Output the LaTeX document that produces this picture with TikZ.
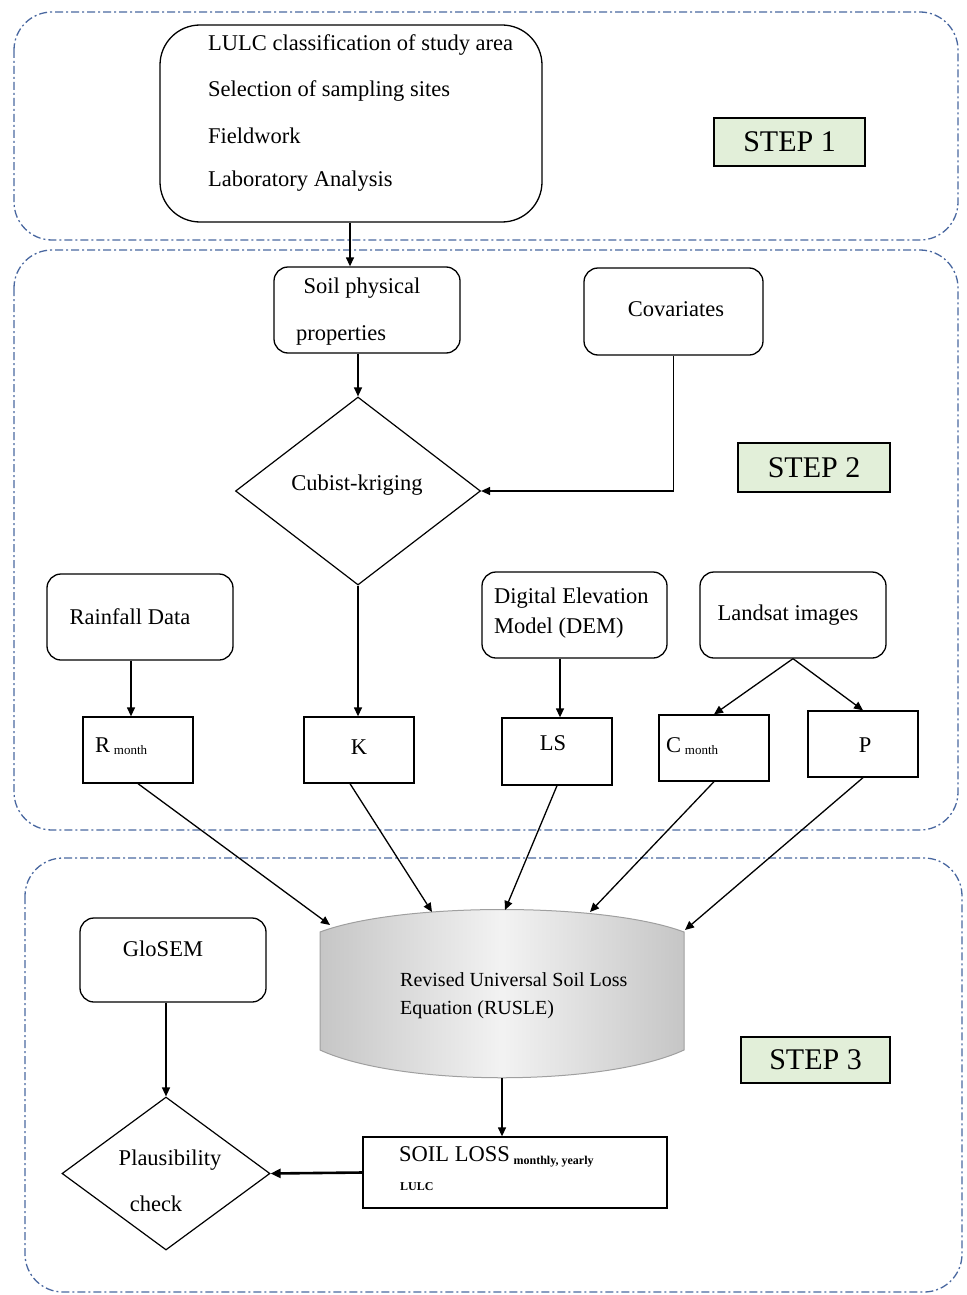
\documentclass[tikz,border=0pt]{standalone}
\usepackage{fontspec}
\setmainfont{Liberation Serif}
\usetikzlibrary{arrows.meta,shapes.geometric}
\definecolor{stepgreen}{HTML}{E2EFD9}
\definecolor{dashblue}{HTML}{4A68A0}
\begin{document}
\begin{tikzpicture}[x=1pt,y=-1pt,
  region/.style={draw=dashblue, line width=1.3pt, rounded corners=38pt,
    dash pattern=on 8pt off 3pt on 2pt off 3pt},
  rbox/.style={draw, line width=1.3pt, rounded corners=14pt, inner sep=0pt},
  sbox/.style={draw, line width=1.3pt, inner sep=0pt},
  stepbox/.style={draw, line width=1.1pt, fill=stepgreen, inner sep=0pt,
    font=\fontsize{30}{32}\selectfont},
  dia/.style={draw, line width=1.2pt, shape=diamond, inner sep=0pt},
  txt/.style={inner sep=0pt, font=\fontsize{22.5}{26}\selectfont},
  stxt/.style={inner sep=0pt, font=\fontsize{20}{24}\selectfont},
  arr/.style={line width=1.3pt, -{Triangle[length=9pt,width=8pt]}},
  ln/.style={line width=1.3pt}
]
\useasboundingbox (0,0) rectangle (966,1295);

% regions
\draw[region] (14,12) rectangle (958,240);
\draw[region] (14,250) rectangle (958,830);
\draw[region] (25,858) rectangle (962,1292);

% STEP 1
\node[rbox, rounded corners=40pt, minimum width=382pt, minimum height=197pt] (s1) at (351,123.5) {};
\node[txt, anchor=west] (t1) at (208,45) {LULC classification of study area};
\node[txt, anchor=west] (t2) at (208,91) {Selection of sampling sites};
\node[txt, anchor=west] (t3) at (208,136) {Fieldwork};
\node[txt, anchor=west] (t4) at (208,181) {Laboratory Analysis};
\node[stepbox, minimum width=151pt, minimum height=48pt] (step1) at (789.5,142) {STEP 1};

% STEP 2
\node[rbox, minimum width=186pt, minimum height=86pt] (soil) at (367,310) {};
\node[txt] (soilt1) at (362,288) {Soil physical};
\node[txt, anchor=west] (soilt2) at (296,335) {properties};
\node[rbox, minimum width=179pt, minimum height=87pt] (cov) at (673.5,311.5) {};
\node[txt] (covt) at (676,309) {Covariates};
\node[dia, minimum width=245pt, minimum height=188pt] (ck) at (358,491) {};
\node[txt] (ckt) at (357,485) {Cubist-kriging};
\node[stepbox, minimum width=152pt, minimum height=49pt] (step2) at (814,467.5) {STEP 2};

\node[rbox, minimum width=186pt, minimum height=86pt] (rain) at (140,617) {};
\node[txt] (raint) at (130,617) {Rainfall Data};
\node[rbox, minimum width=185pt, minimum height=86pt] (dem) at (574.5,615) {};
\node[txt, anchor=west] (demt1) at (494,598) {Digital Elevation};
\node[txt, anchor=west] (demt2) at (494,628) {Model (DEM)};
\node[rbox, minimum width=186pt, minimum height=86pt] (land) at (793,615) {};
\node[txt] (landt) at (788,615) {Landsat images};

\node[sbox, minimum width=110pt, minimum height=66pt] (R) at (138,750) {};
\node[txt, anchor=west] (Rt) at (95,746) {R\,{\fontsize{13}{13}\selectfont\raisebox{-2pt}{month}}};
\node[sbox, minimum width=110pt, minimum height=66pt] (K) at (359,750) {};
\node[txt] (Kt) at (359,747) {K};
\node[sbox, minimum width=110pt, minimum height=67pt] (LS) at (557,751.5) {};
\node[txt] (LSt) at (553,743) {LS};
\node[sbox, minimum width=110pt, minimum height=66pt] (C) at (714,748) {};
\node[txt, anchor=west] (Ct) at (666,746) {C\,{\fontsize{13}{13}\selectfont\raisebox{-2pt}{month}}};
\node[sbox, minimum width=110pt, minimum height=66pt] (P) at (863,744) {};
\node[txt] (Pt) at (865,745) {P};

% STEP 3
\shade[left color=gray!45, right color=gray!45, middle color=gray!10, draw=gray!75, line width=1pt]
  (320,932) .. controls (400,902) and (604,902) .. (684,932) -- (684,1050)
  .. controls (604,1087) and (400,1087) .. (320,1050) -- cycle;
\node[inner sep=0pt, minimum width=364pt, minimum height=120pt] (rusle) at (502,990) {};
\node[stxt, anchor=west] (rt1) at (400,980) {Revised Universal Soil Loss};
\node[stxt, anchor=west] (rt2) at (400,1010) {Equation (RUSLE)};
\coordinate (eR) at (330,925);
\coordinate (eK) at (432,912);
\coordinate (eLS) at (505,910);
\coordinate (eC) at (590,912);
\coordinate (eP) at (685,930);
\coordinate (rb) at (502,1078);

\node[rbox, minimum width=186pt, minimum height=84pt] (glo) at (173,960) {};
\node[txt] (glot) at (163,949) {GloSEM};
\node[dia, minimum width=208pt, minimum height=153pt] (pl) at (166,1173.5) {};
\node[txt] (plt1) at (170,1160) {Plausibility};
\node[txt] (plt2) at (156,1204) {check};
\node[sbox, minimum width=304pt, minimum height=71pt] (sl) at (515,1172.5) {};
\node[txt, anchor=west] (slt1) at (399,1157) {SOIL LOSS\,{\fontsize{12}{12}\selectfont\bfseries\raisebox{-3pt}{monthly, yearly}}};
\node[inner sep=0pt, anchor=west, font=\fontsize{12}{14}\selectfont\bfseries] (slt2) at (400,1187) {LULC};
\node[stepbox, minimum width=149pt, minimum height=46pt] (step3) at (815.5,1060) {STEP 3};

% connectors
\draw[arr] (s1.south -| 350,0) -- (350,0 |- soil.north);
\draw[arr] (soil.south -| ck.north) -- (ck.north);
\draw[arr] (cov.south) -- (cov.south |- ck.east) -- (ck.east);
\draw[arr] (rain.south -| 131,0) -- (131,0 |- R.north);
\draw[arr] (ck.south) -- (ck.south |- K.north);
\draw[arr] (dem.south -| 560,0) -- (560,0 |- LS.north);
\draw[arr] (land.south) -- (C.north);
\draw[arr] (land.south) -- (P.north);
\draw[arr] (R.south) -- (eR);
\draw[arr] (K.south -| 350,0) -- (eK);
\draw[arr] (LS.south) -- (eLS);
\draw[arr] (C.south) -- (eC);
\draw[arr] (P.south) -- (eP);
\draw[arr] (glo.south -| pl.north) -- (pl.north);
\draw[arr] (rb) -- (rb |- sl.north);
\draw[line width=2.6pt, -{Triangle[length=10pt,width=9pt]}] (sl.west) -- (pl.east);
\end{tikzpicture}
\end{document}
